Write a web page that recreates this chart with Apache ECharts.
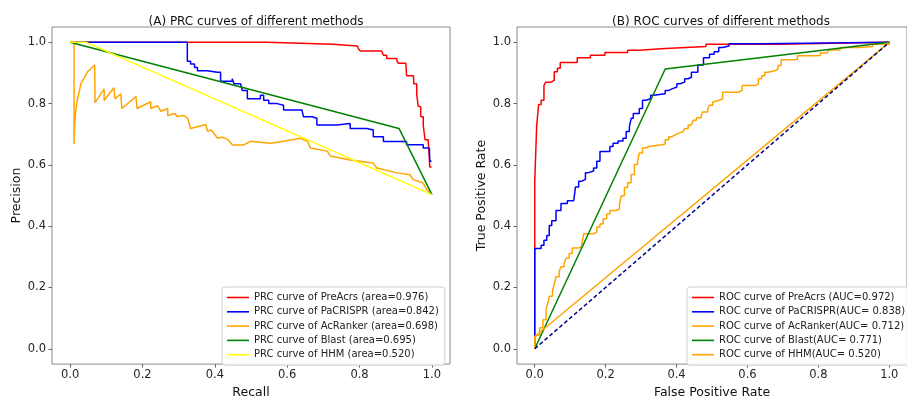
<!DOCTYPE html>
<html><head><meta charset="utf-8">
<script src="https://cdn.jsdelivr.net/npm/echarts@6/dist/echarts.min.js"></script>
<style>html,body{margin:0;padding:0;background:#fff}#c{width:907px;height:404px}</style>
</head><body><div id="c"></div>
<script>
// ---------- data ----------
const titles = ['(A) PRC curves of different methods', '(B) ROC curves of different methods'];
const axisNames = {prcX: 'Recall', prcY: 'Precision', rocX: 'False Positive Rate', rocY: 'True Positive Rate'};
const tickValues = [0, 0.2, 0.4, 0.6, 0.8, 1.0];
const prcNames = ['PRC curve of PreAcrs (area=0.976)', 'PRC curve of PaCRISPR (area=0.842)', 'PRC curve of AcRanker (area=0.698)', 'PRC curve of Blast (area=0.695)', 'PRC curve of HHM (area=0.520)'];
const rocNames = ['ROC curve of PreAcrs (AUC=0.972)', 'ROC curve of PaCRISPR(AUC= 0.838)', 'ROC curve of AcRanker(AUC= 0.712)', 'ROC curve of Blast(AUC= 0.771)', 'ROC curve of HHM(AUC= 0.520)'];

const prcPreAcrs = [[0,1],[0.545,1],[0.545,0.994],[0.726,0.994],[0.726,0.988],[0.794,0.988],[0.797,0.979],[0.802,0.972],[0.861,0.969],[0.866,0.958],[0.875,0.947],[0.903,0.94],[0.907,0.932],[0.928,0.929],[0.93,0.891],[0.949,0.889],[0.95,0.865],[0.958,0.832],[0.962,0.792],[0.967,0.789],[0.969,0.757],[0.976,0.73],[0.981,0.682],[0.99,0.671],[0.993,0.623],[0.994,0.593],[0.999,0.593]];
const prcPaCRISPR = [[0,1],[0.324,1],[0.324,0.938],[0.333,0.929],[0.344,0.918],[0.352,0.907],[0.379,0.902],[0.407,0.902],[0.416,0.873],[0.448,0.881],[0.453,0.865],[0.471,0.87],[0.476,0.843],[0.49,0.816],[0.526,0.827],[0.535,0.811],[0.549,0.8],[0.572,0.795],[0.59,0.779],[0.641,0.784],[0.645,0.757],[0.669,0.752],[0.682,0.73],[0.737,0.735],[0.774,0.719],[0.82,0.714],[0.838,0.692],[0.866,0.676],[0.93,0.666],[0.976,0.655],[0.993,0.649],[0.994,0.612],[0.999,0.612]];
const prcAcRanker = [[0,1],[0.011,1],[0.011,0.668],[0.013,0.74],[0.016,0.78],[0.019,0.806],[0.03,0.865],[0.049,0.905],[0.068,0.926],[0.069,0.803],[0.094,0.848],[0.094,0.81],[0.121,0.852],[0.124,0.816],[0.14,0.832],[0.143,0.784],[0.182,0.823],[0.185,0.784],[0.223,0.806],[0.223,0.784],[0.242,0.793],[0.251,0.775],[0.27,0.784],[0.27,0.761],[0.29,0.768],[0.295,0.758],[0.314,0.761],[0.325,0.752],[0.333,0.719],[0.375,0.732],[0.38,0.71],[0.39,0.714],[0.408,0.687],[0.42,0.69],[0.435,0.684],[0.449,0.665],[0.479,0.665],[0.499,0.677],[0.554,0.671],[0.59,0.677],[0.636,0.687],[0.656,0.677],[0.664,0.655],[0.711,0.645],[0.719,0.629],[0.774,0.616],[0.837,0.606],[0.848,0.59],[0.904,0.574],[0.939,0.568],[0.948,0.552],[0.975,0.542],[0.986,0.519],[1,0.503]];
const prcBlast = [[0,1],[0.909,0.719],[1,0.503]];
const prcHHM = [[0,1],[0.045,1],[1,0.503]];

const rocPreAcrs = [[0,0],[0,0.545],[0.0055,0.545],[0.0055,0.728],[0.011,0.728],[0.011,0.797],[0.018,0.797],[0.018,0.811],[0.026,0.811],[0.026,0.859],[0.031,0.859],[0.031,0.87],[0.046,0.87],[0.046,0.876],[0.055,0.876],[0.055,0.904],[0.064,0.904],[0.064,0.915],[0.072,0.915],[0.072,0.934],[0.12,0.934],[0.12,0.95],[0.157,0.95],[0.157,0.958],[0.198,0.958],[0.198,0.967],[0.262,0.967],[0.262,0.974],[0.295,0.974],[0.295,0.98],[0.368,0.98],[0.368,0.986],[0.483,0.986],[0.483,0.994],[0.69,0.994],[0.69,1],[1,1]];
const rocPaCRISPR = [[0,0],[0,0.327],[0.018,0.327],[0.018,0.338],[0.026,0.338],[0.026,0.354],[0.034,0.354],[0.034,0.37],[0.041,0.37],[0.041,0.402],[0.048,0.402],[0.048,0.418],[0.06,0.418],[0.06,0.451],[0.074,0.451],[0.074,0.474],[0.092,0.474],[0.092,0.483],[0.11,0.483],[0.11,0.488],[0.115,0.488],[0.115,0.528],[0.124,0.528],[0.124,0.547],[0.133,0.547],[0.133,0.553],[0.143,0.553],[0.143,0.574],[0.149,0.574],[0.149,0.58],[0.166,0.58],[0.166,0.59],[0.175,0.59],[0.175,0.612],[0.184,0.612],[0.184,0.644],[0.212,0.644],[0.212,0.66],[0.221,0.66],[0.221,0.671],[0.235,0.671],[0.235,0.678],[0.249,0.678],[0.249,0.687],[0.258,0.687],[0.258,0.709],[0.267,0.709],[0.267,0.725],[0.272,0.725],[0.272,0.752],[0.278,0.752],[0.278,0.768],[0.295,0.768],[0.295,0.784],[0.304,0.784],[0.304,0.811],[0.313,0.811],[0.313,0.816],[0.327,0.816],[0.327,0.827],[0.336,0.827],[0.336,0.832],[0.368,0.832],[0.368,0.843],[0.378,0.843],[0.378,0.848],[0.387,0.848],[0.387,0.854],[0.401,0.854],[0.401,0.865],[0.41,0.865],[0.41,0.87],[0.423,0.87],[0.423,0.881],[0.433,0.881],[0.433,0.886],[0.442,0.886],[0.442,0.902],[0.46,0.902],[0.46,0.926],[0.476,0.926],[0.476,0.95],[0.493,0.95],[0.493,0.961],[0.506,0.961],[0.506,0.969],[0.519,0.969],[0.519,0.983],[0.53,0.983],[0.53,0.988],[0.548,0.988],[0.548,0.995],[0.64,0.995],[0.64,1],[1,1]];
const rocAcRanker = [[0,0],[0,0.031],[0.005,0.044],[0.014,0.069],[0.023,0.095],[0.032,0.128],[0.037,0.149],[0.041,0.171],[0.05,0.19],[0.055,0.21],[0.06,0.235],[0.069,0.252],[0.074,0.268],[0.083,0.278],[0.088,0.295],[0.097,0.311],[0.106,0.329],[0.124,0.334],[0.133,0.343],[0.138,0.375],[0.166,0.381],[0.175,0.397],[0.184,0.407],[0.193,0.424],[0.203,0.44],[0.212,0.451],[0.23,0.456],[0.239,0.472],[0.244,0.499],[0.253,0.526],[0.262,0.542],[0.272,0.569],[0.281,0.601],[0.29,0.612],[0.295,0.639],[0.304,0.655],[0.313,0.66],[0.322,0.666],[0.359,0.668],[0.368,0.682],[0.378,0.692],[0.387,0.698],[0.396,0.703],[0.405,0.709],[0.419,0.714],[0.423,0.719],[0.433,0.73],[0.442,0.735],[0.447,0.746],[0.456,0.754],[0.47,0.762],[0.474,0.773],[0.488,0.784],[0.493,0.795],[0.502,0.805],[0.506,0.811],[0.52,0.816],[0.53,0.837],[0.548,0.837],[0.575,0.843],[0.585,0.859],[0.622,0.865],[0.631,0.881],[0.64,0.891],[0.649,0.902],[0.658,0.907],[0.677,0.913],[0.686,0.924],[0.695,0.943],[0.732,0.945],[0.741,0.956],[0.796,0.958],[0.806,0.965],[0.824,0.967],[0.829,0.975],[0.861,0.983],[0.916,0.986],[0.953,0.994],[1,1]];
const rocBlast = [[0,0],[0.368,0.913],[1,1]];
const rocHHM = [[0,0],[0,0.04],[1,1]];
const rocChance = [[0,0],[1,1]];

const colors = ['#ff0000', '#0000ff', '#ffa500', '#008000', '#ffff00'];
const rocColors = ['#ff0000', '#0000ff', '#ffa500', '#008000', '#ffa500'];

// ---------- chart ----------
const FONT = 'DejaVu Sans';
const chart = echarts.init(document.getElementById('c'), null, {renderer: 'canvas'});

function mkX(idx, name) {
  return {
    type: 'value', gridIndex: idx, min: -0.05, max: 1.05, position: 'bottom',
    name: name, nameLocation: 'middle', nameGap: 21,
    nameTextStyle: {fontFamily: FONT, fontSize: 12.5, color: '#111'},
    axisLine: {show: false, onZero: false}, splitLine: {show: false},
    axisTick: {show: true, length: 3.5, customValues: tickValues, lineStyle: {color: '#666', width: 1}},
    axisLabel: {customValues: tickValues, margin: 5, fontFamily: FONT, fontSize: 11.5, color: '#262626', formatter: v => v.toFixed(1)}
  };
}
function mkY(idx, name) {
  return {
    type: 'value', gridIndex: idx, min: -0.05, max: 1.05, position: 'left',
    name: name, nameLocation: 'middle', nameGap: 29, nameRotate: 90,
    nameTextStyle: {fontFamily: FONT, fontSize: 12.5, color: '#111'},
    axisLine: {show: false, onZero: false}, splitLine: {show: false},
    axisTick: {show: true, length: 3.5, customValues: tickValues, lineStyle: {color: '#666', width: 1}},
    axisLabel: {customValues: tickValues, margin: 6, fontFamily: FONT, fontSize: 11.5, color: '#262626', formatter: v => v.toFixed(1)}
  };
}
function mkLine(name, data, color, idx, opts) {
  return Object.assign({
    type: 'line', name: name, data: data, xAxisIndex: idx, yAxisIndex: idx,
    showSymbol: false, symbol: 'none', smooth: false, clip: true,
    lineStyle: {color: color, width: 1.5}, itemStyle: {color: color},
    emphasis: {disabled: true}, animation: false
  }, opts || {});
}
function mkLegend(left, names) {
  return {
    left: left, top: 287, orient: 'vertical', data: names,
    icon: 'rect', itemWidth: 22, itemHeight: 1.6, itemGap: 3.3,
    padding: [5, 6, 5, 5],
    borderColor: '#cfcfcf', borderWidth: 1, borderRadius: 3,
    backgroundColor: 'rgba(255,255,255,0.85)',
    textStyle: {fontFamily: FONT, fontSize: 10, lineHeight: 11, color: '#222'},
    selectedMode: false
  };
}

const prcSeries = [prcPreAcrs, prcPaCRISPR, prcAcRanker, prcBlast, prcHHM];
const rocSeries = [rocPreAcrs, rocPaCRISPR, rocAcRanker, rocBlast, rocHHM];
const series = [];
prcSeries.forEach((d, i) => series.push(mkLine(prcNames[i], d, colors[i], 0, (i < 2) ? {step: 'end'} : {})));
rocSeries.forEach((d, i) => series.push(mkLine(rocNames[i], d, rocColors[i], 1, (i < 3) ? {step: 'end'} : {})));
series.push(mkLine('chance', rocChance, '#000080', 1, {lineStyle: {color: '#000080', width: 1.5, type: [4, 2.5]}}));

chart.setOption({
  animation: false,
  backgroundColor: '#ffffff',
  title: [
    {text: titles[0], left: 251, top: 11, textAlign: 'center', textStyle: {fontFamily: FONT, fontSize: 12, fontWeight: 'normal', color: '#111'}},
    {text: titles[1], left: 716, top: 11, textAlign: 'center', textStyle: {fontFamily: FONT, fontSize: 12, fontWeight: 'normal', color: '#111'}}
  ],
  grid: [
    {left: 52, top: 27, width: 398, height: 342, show: true, borderColor: '#8a8a8a', borderWidth: 1, backgroundColor: 'transparent'},
    {left: 517, top: 27, width: 398, height: 342, show: true, borderColor: '#8a8a8a', borderWidth: 1, backgroundColor: 'transparent'}
  ],
  xAxis: [mkX(0, axisNames.prcX), mkX(1, axisNames.rocX)],
  yAxis: [mkY(0, axisNames.prcY), mkY(1, axisNames.rocY)],
  legend: [mkLegend(222, prcNames), mkLegend(687, rocNames)],
  series: series
});
</script></body></html>
